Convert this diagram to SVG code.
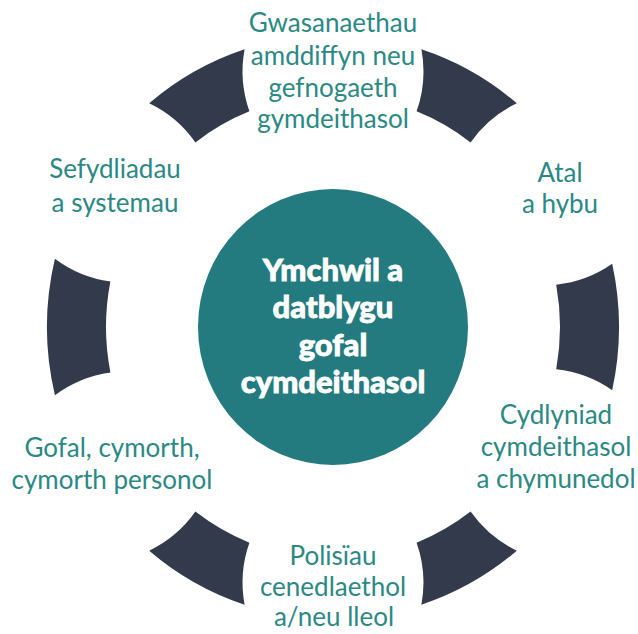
<svg xmlns="http://www.w3.org/2000/svg" width="638" height="634" viewBox="0 0 638 634">
<style>
.seg{fill:#323a4b}
.hub{fill:#237b80}
.lbl{font-family:Lato,"Open Sans","Liberation Sans",sans-serif;font-size:26px;fill:#2b8984;text-anchor:middle}
.hubt{font-family:Lato,"Open Sans","Liberation Sans",sans-serif;font-size:31px;font-weight:900;fill:#ffffff;stroke:#ffffff;stroke-width:0.8;text-anchor:middle}
</style>
<rect width="638" height="634" fill="#ffffff"/>
<g id="connectors">
<path class="seg" d="M612.2,390.2 A286,292 0 0 0 612.2,263.8 A120,120 0 0 1 556.2,284.7 A227,232 0 0 1 556.2,369.3 A120,120 0 0 1 612.2,390.2 Z"/>
<path class="seg" d="M516.8,103.3 A286,292 0 0 0 421.4,49.3 A120,120 0 0 1 416.6,111.3 A227,232 0 0 1 470.6,142.4 A120,120 0 0 1 516.8,103.3 Z"/>
<path class="seg" d="M244.6,49.3 A286,292 0 0 0 149.2,103.3 A120,120 0 0 1 195.4,142.4 A227,232 0 0 1 249.4,111.3 A120,120 0 0 1 244.6,49.3 Z"/>
<path class="seg" d="M54.9,258.8 A286,292 0 0 0 54.9,395.2 A120,120 0 0 1 110.4,372.4 A227,232 0 0 1 110.4,281.6 A120,120 0 0 1 54.9,258.8 Z"/>
<path class="seg" d="M149.2,550.7 A286,292 0 0 0 244.6,604.7 A120,120 0 0 1 249.4,542.7 A227,232 0 0 1 195.4,511.6 A120,120 0 0 1 149.2,550.7 Z"/>
<path class="seg" d="M421.4,604.7 A286,292 0 0 0 516.8,550.7 A120,120 0 0 1 470.6,511.6 A227,232 0 0 1 416.6,542.7 A120,120 0 0 1 421.4,604.7 Z"/>
</g>
<g id="hub">
<ellipse class="hub" cx="333" cy="327" rx="135" ry="138"/>
<text class="hubt" x="333" y="281">Ymchwil a</text>
<text class="hubt" x="333" y="318">datblygu</text>
<text class="hubt" x="333" y="356">gofal</text>
<text class="hubt" x="333" y="393">cymdeithasol</text>
</g>
<g id="n-top">
<text class="lbl" x="333" y="32">Gwasanaethau</text>
<text class="lbl" x="333" y="65">amddiffyn neu</text>
<text class="lbl" x="333" y="97">gefnogaeth</text>
<text class="lbl" x="333" y="128">gymdeithasol</text>
</g>
<g id="n-upper-right">
<text class="lbl" x="560" y="182">Atal</text>
<text class="lbl" x="560" y="213">a hybu</text>
</g>
<g id="n-lower-right">
<text class="lbl" x="556" y="424">Cydlyniad</text>
<text class="lbl" x="556" y="456">cymdeithasol</text>
<text class="lbl" x="556" y="488">a chymunedol</text>
</g>
<g id="n-bottom">
<text class="lbl" x="333" y="565">Polisïau</text>
<text class="lbl" x="333" y="596">cenedlaethol</text>
<text class="lbl" x="334" y="626">a/neu lleol</text>
</g>
<g id="n-lower-left">
<text class="lbl" x="112" y="457">Gofal, cymorth,</text>
<text class="lbl" x="112" y="489">cymorth personol</text>
</g>
<g id="n-upper-left">
<text class="lbl" x="115" y="178">Sefydliadau</text>
<text class="lbl" x="115" y="212">a systemau</text>
</g>
</svg>
